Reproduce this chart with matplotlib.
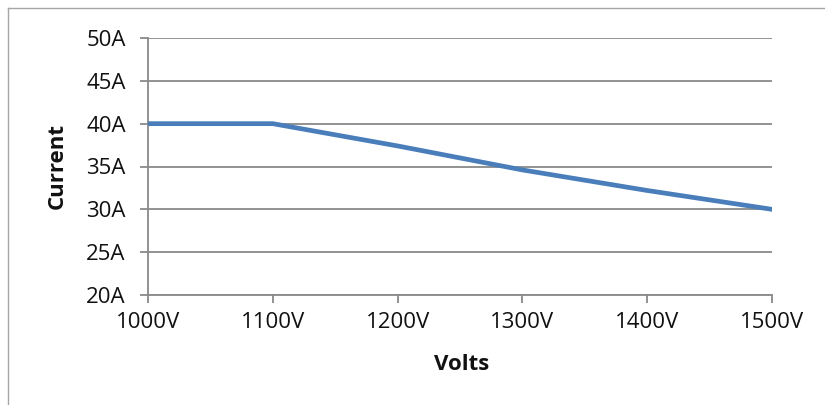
import matplotlib.pyplot as plt
from matplotlib.lines import Line2D

volts = [1000, 1100, 1200, 1300, 1400, 1500]
current = [40, 40, 37.4, 34.6, 32.2, 30]
xlabels = ['1000V', '1100V', '1200V', '1300V', '1400V', '1500V']
yticks = [20, 25, 30, 35, 40, 45, 50]
ylabels = ['20A', '25A', '30A', '35A', '40A', '45A', '50A']

plt.rcParams['font.family'] = ['Open Sans', 'DejaVu Sans']

fig = plt.figure(figsize=(8.25, 4.05), dpi=100)
ax = fig.add_axes([148/825, 1 - 295/405, (772 - 148)/825, (295 - 38)/405])

ax.plot(volts, current, color='#4A7EBB', linewidth=3.4, solid_capstyle='round', zorder=3)

ax.set_xlim(1000, 1500)
ax.set_ylim(20, 50)
ax.set_xticks(volts)
ax.set_xticklabels(xlabels)
ax.set_yticks(yticks)
ax.set_yticklabels(ylabels)

gray = '#898989'
ax.grid(axis='y', color=gray, linewidth=1.3)
ax.set_axisbelow(True)
for s in ['top', 'right']:
    ax.spines[s].set_visible(False)
for s in ['left', 'bottom']:
    ax.spines[s].set_color(gray)
    ax.spines[s].set_linewidth(1.3)
ax.tick_params(axis='both', color=gray, length=6, width=1.3, labelsize=16)
ax.tick_params(axis='both', labelcolor='#111111')
ax.tick_params(axis='x', pad=6)
ax.tick_params(axis='y', pad=10)

fig.text(57/825, 1 - 166/405, 'Current', rotation=90, ha='center', va='center',
         fontsize=16, fontweight='bold', color='#111111')
fig.text(462/825, 1 - 364/405, 'Volts', ha='center', va='center',
         fontsize=16, fontweight='bold', color='#111111')

# chart border (top and left visible)
fig.add_artist(Line2D([8/825, 1], [1 - 8/405, 1 - 8/405], color='#a6a6a6', linewidth=1))
fig.add_artist(Line2D([8/825, 8/825], [0, 1 - 8/405], color='#a6a6a6', linewidth=1))

fig.savefig('out.png', dpi=100, facecolor='white')
